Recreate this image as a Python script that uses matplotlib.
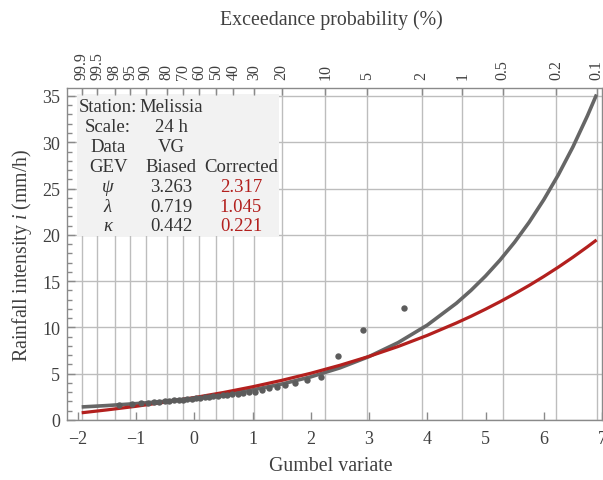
import numpy as np
import matplotlib
matplotlib.use("Agg")
import matplotlib.pyplot as plt
from matplotlib.ticker import MultipleLocator, FixedLocator
from matplotlib.patches import Rectangle

plt.rcParams['font.family'] = ['Liberation Serif', 'DejaVu Serif']
plt.rcParams['mathtext.fontset'] = 'custom'
plt.rcParams['mathtext.rm'] = 'Liberation Serif'
plt.rcParams['mathtext.it'] = 'Liberation Serif:italic'

# ---- data ----
# Exceedance probabilities shown on the top axis (%)
prob_labels = ['99.9', '99.5', '98', '95', '90', '80', '70', '60', '50', '40',
               '30', '20', '10', '5', '2', '1', '0.5', '0.2', '0.1']

# Observed sample (Gumbel variate, rainfall intensity mm/h)
obs_x = [-1.284, -1.071, -0.921, -0.800, -0.694, -0.599, -0.510, -0.426, -0.346,
         -0.269, -0.193, -0.119, -0.045, 0.029, 0.102, 0.176, 0.251, 0.328,
         0.406, 0.486, 0.568, 0.654, 0.743, 0.837, 0.937, 1.042, 1.155, 1.278,
         1.412, 1.562, 1.732, 1.930, 2.168, 2.470, 2.889, 3.597]
obs_y = [1.62, 1.72, 1.80, 1.86, 1.91, 1.96, 2.01, 2.06, 2.11, 2.16, 2.21, 2.26,
         2.31, 2.36, 2.41, 2.46, 2.51, 2.56, 2.62, 2.68, 2.74, 2.80, 2.86, 2.92,
         2.98, 3.05, 3.20, 3.45, 3.60, 3.80, 4.00, 4.30, 4.65, 6.95, 9.75, 12.07]

# GEV curves (Gumbel variate -> intensity)
curve_x = [-1.933, -1.5, -1.0, -0.5, 0.0, 0.5, 1.0, 1.5, 2.0, 2.5, 3.0, 3.5, 4.0,
           4.5, 4.75, 5.0, 5.25, 5.5, 5.75, 6.0, 6.25, 6.5, 6.75, 6.907]
biased_y = [1.41, 1.56, 1.77, 2.02, 2.35, 2.75, 3.25, 3.88, 4.66, 5.63, 6.85, 8.36,
            10.25, 12.61, 14.00, 15.55, 17.28, 19.21, 21.37, 23.79, 26.48, 29.49,
            32.86, 35.16]
corrected_y = [0.78, 1.09, 1.48, 1.93, 2.42, 2.97, 3.59, 4.28, 5.05, 5.91, 6.87,
               7.94, 9.14, 10.48, 11.20, 11.97, 12.78, 13.64, 14.54, 15.50, 16.51,
               17.58, 18.71, 19.45]

# Table content
station = 'Melissia'
scale = '24 h'
data_src = 'VG'
param_names = ['ψ', 'λ', 'κ']
biased_params = ['3.263', '0.719', '0.442']
corrected_params = ['2.317', '1.045', '0.221']

# ---- figure ----
W, H = 603, 481
fig = plt.figure(figsize=(W / 100, H / 100), dpi=100)
L, R, T, B = 67, 602, 89.3, 421
ax = fig.add_axes([L / W, 1 - B / H, (R - L) / W, (B - T) / H])
ax.set_xlim(-2.185, 7)
ax.set_ylim(0, 35.83)

GRID = '#bdbdbd'
SPINE = '#8a8a8a'
TXT = '#404040'
GRAY = '#666666'
RED = '#b3201e'

ax.set_axisbelow(True)
for s in ax.spines.values():
    s.set_color(SPINE)
    s.set_linewidth(1.0)

ax.xaxis.set_major_locator(FixedLocator(range(-2, 8)))
ax.yaxis.set_major_locator(MultipleLocator(5))
ax.yaxis.set_minor_locator(MultipleLocator(1))
ax.tick_params(axis='both', which='major', direction='in', length=6, width=1,
               color=SPINE, labelsize=13, labelcolor=TXT)
ax.tick_params(axis='y', which='minor', direction='in', length=3.5, width=1, color=SPINE)
ax.tick_params(axis='x', pad=7)
ax.tick_params(axis='y', pad=5)
ax.grid(axis='y', which='major', color=GRID, linewidth=1.0)

# top axis with exceedance probabilities
ax2 = ax.twiny()
ax2.set_xlim(ax.get_xlim())
probs = np.array([float(p) for p in prob_labels]) / 100.0
top_pos = -np.log(-np.log(1.0 - probs))
ax2.set_xticks(top_pos)
ax2.set_xticklabels(prob_labels, rotation=90)
ax2.tick_params(axis='x', direction='in', length=5, width=1, color=SPINE,
                labelsize=11.5, labelcolor=TXT, pad=7)
for s in ax2.spines.values():
    s.set_visible(False)
for xv in top_pos:
    ax.axvline(xv, color=GRID, linewidth=1.0, zorder=0.5)

# curves and points
ax.plot(curve_x, biased_y, color=GRAY, linewidth=2.6, zorder=2,
        solid_joinstyle='round', solid_capstyle='butt')
ax.plot(curve_x, corrected_y, color=RED, linewidth=2.3, zorder=2.1,
        solid_joinstyle='round', solid_capstyle='butt')
ax.plot(obs_x, obs_y, 'o', color='#5c5c5c', markersize=4.6, markeredgewidth=0,
        zorder=3)

# table box
x0 = (77 - L) / (R - L)
x1 = (279 - L) / (R - L)
y0 = (B - 237) / (B - T)
y1 = (B - 95) / (B - T)
ax.add_patch(Rectangle((x0, y0), x1 - x0, y1 - y0, transform=ax.transAxes,
                       facecolor='#f2f2f2', edgecolor='none', zorder=1.5))

cols = [108, 171, 241]
base0, dy = 112, 19.9
rows = [
    [('Station:', '#333333', 'normal'), (station, '#333333', 'normal'), None],
    [('Scale:', '#333333', 'normal'), (scale, '#333333', 'normal'), None],
    [('Data', '#333333', 'normal'), (data_src, '#333333', 'normal'), None],
    [('GEV', '#333333', 'normal'), ('Biased', '#333333', 'normal'),
     ('Corrected', '#333333', 'normal')],
]
for n, b, c in zip(param_names, biased_params, corrected_params):
    rows.append([(n, '#333333', 'italic'), (b, '#333333', 'normal'), (c, RED, 'normal')])

for i, row in enumerate(rows):
    by = base0 + i * dy
    for cx, cell in zip(cols, row):
        if cell is None:
            continue
        txt, col, style = cell
        fig.text(cx / W, 1 - by / H, txt, ha='center', va='baseline',
                 fontsize=13.5, color=col, fontstyle=style)

# axis titles
fig.text(331 / W, 1 - 20 / H, 'Exceedance probability (%)', ha='center',
         va='center', fontsize=14.3, color=TXT)
fig.text(331 / W, 1 - 467 / H, 'Gumbel variate', ha='center', va='center',
         fontsize=14.3, color=TXT)
fig.text(22 / W, 1 - 255 / H, 'Rainfall intensity $\\mathit{i}$ (mm/h)',
         ha='center', va='center', rotation=90, fontsize=14.3, color=TXT)

fig.savefig('out.png', dpi=100)
